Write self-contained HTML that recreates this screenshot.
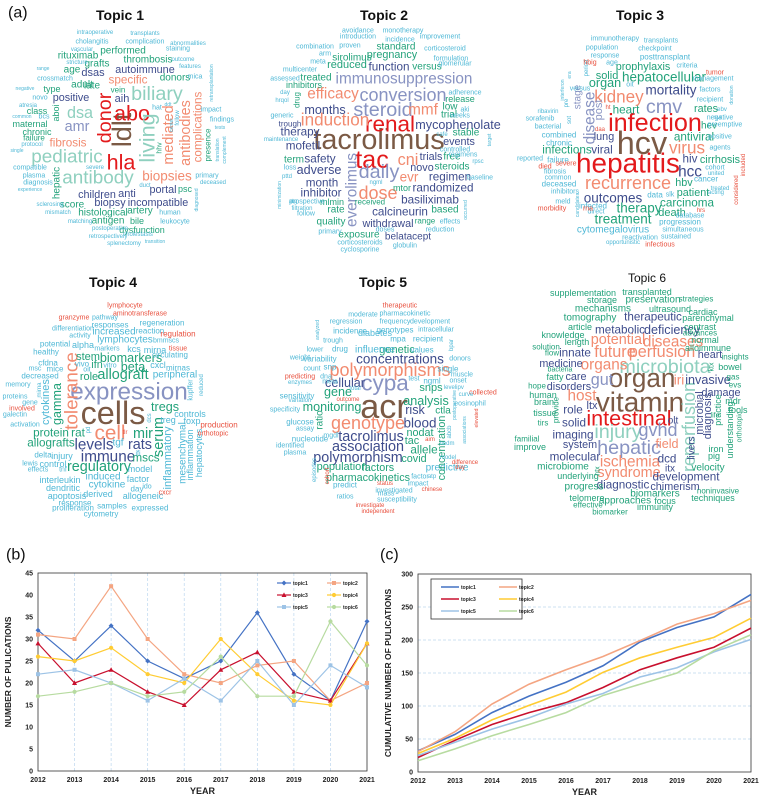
<!DOCTYPE html>
<html><head><meta charset="utf-8"><style>
html,body{margin:0;padding:0;background:#fff}
svg{display:block;font-family:"Liberation Sans",Arial,sans-serif}
</style></head><body>
<svg id="fig" width="762" height="800" viewBox="0 0 762 800">
<g id="clouds"></g>
<g id="chartB"></g>
<g id="chartC"></g>
</svg>
<script>
const years=[2012,2013,2014,2015,2016,2017,2018,2019,2020,2021];
const seriesNames=["topic1","topic2","topic3","topic4","topic5","topic6"];
const t1=[32,25,33,25,21,25,36,22,16,34];
const t2=[31,30,42,30,22,20,24,25,16,20];
const t3=[29,20,23,18,15,23,27,18,16,29];
const t4=[26,25,28,22,20,30,22,16,15,29];
const t5=[22,23,20,16,21,16,25,15,24,19];
const t6=[17,18,20,17,18,26,17,17,34,24];
const c1=[32,57,90,115,136,161,197,219,235,269];
const c2=[31,61,103,133,155,175,199,224,240,260];
const c3=[22,48,72,90,105,128,155,173,189,218];
const c4=[28,51,79,101,121,151,173,189,204,233];
const c5=[25,45,65,82,103,119,144,158,182,201];
const c6=[17,35,55,72,90,116,133,150,184,208];
const yTicksB=[0,5,10,15,20,25,30,35,40,45];
const yTicksC=[0,50,100,150,200,250,300];
const colors=["#4472c4","#f4a582","#c8102e","#ffcc33","#9dc3e6","#b7dba0"];
const markers=["diamond","square","triangle","circle","square","circle"];

const NS="http://www.w3.org/2000/svg";
function mk(tag,attrs,parent){const e=document.createElementNS(NS,tag);for(const k in attrs)e.setAttribute(k,attrs[k]);parent.appendChild(e);return e;}

const COL={B:"#7b5a45",R:"#e31a1c",S:"#f28b70",L:"#8893c2",N:"#3e4c8c",G:"#22a27a",P:"#8fd0bf",C:"#4fb8d6",O:"#e8503e"};
const W=[
["(a)",20,13,16,"K",0,1],["Topic 1",120,15,14,"K",0,2],["Topic 2",384,15,14,"K",0,2],["Topic 3",640,15,14,"K",0,2],
["Topic 4",113,282,14,"K",0,2],["Topic 5",383,282,14,"K",0,2],["Topic 6",640,278,12,"K",0,1],
["(b)",18,555,16,"K",0,1],["(c)",392,555,16,"K",0,1],
["donor",105,118,22,"R",1],["ldlt",122,130,30,"B",1],["abo",132,113,24,"R",0],["hla",121,162,24,"R",0],["living",147,138,24,"P",1],
["biliary",157,94,22,"P",0],["pediatric",67,157,21,"P",0],["antibody",98,178,21,"P",0],["dsa",80,113,18,"P",0],["amr",77,127,16,"L",0],
["fibrosis",68,143,13,"S",0],["specific",128,80,13,"S",0],["mediated",169,135,16,"S",1],["antibodies",186,133,16,"S",1],["complications",198,127,13,"S",1],
["biopsies",167,176,15,"S",0],["children",97,195,12,"N",0],["anti",127,194,11,"N",0],["portal",163,190,12,"N",0],["biopsy",110,203,12,"N",0],
["incompatible",158,203,12,"N",0],["positive",71,98,12,"N",0],["autoimmune",145,70,12,"N",0],["dsas",93,73,11,"N",0],["aih",122,99,11,"N",0],
["hepatic",57,183,10,"G",1],["histological",103,213,10,"G",0],["performed",123,51,10,"G",0],["thrombosis",148,60,10,"G",0],["donors",175,78,10,"G",0],
["rituximab",78,56,10,"G",0],["grafts",97,64,10,"G",0],["age",72,70,10,"G",0],["adult",82,85,10,"G",0],["late",92,86,10,"G",0],["type",52,89,9,"G",0],
["class",37,111,9,"G",0],["maternal",30,124,9,"G",0],["chronic",37,132,9,"G",0],["failure",34,138,8,"G",0],["aboi",56,113,9,"G",1],["vein",118,90,8,"G",0],
["presence",208,145,8,"G",1],["psc",185,189,9,"G",0],["score",72,205,10,"G",0],["artery",140,211,10,"G",0],["bile",137,221,9,"G",0],["antigen",108,221,10,"G",0],["dysfunction",142,230,9,"G",0],
["intraoperative",95,33,6,"C",0],["transplants",145,34,6,"C",0],["cholangitis",92,42,7,"C",0],["complication",145,42,7,"C",0],["abnormalities",188,44,6,"C",0],
["vascular",82,50,6,"C",0],["staining",178,49,7,"C",0],["stricture",77,63,6,"C",0],["outcome",183,60,6,"C",0],["range",43,69,5,"C",0],["features",190,67,6,"C",0],
["crossmatch",55,79,7,"C",0],["mica",195,77,7,"C",0],["negative",25,89,5,"C",0],["novo",40,98,7,"C",0],["atresia",28,106,6,"C",0],["bcs",44,117,7,"C",0],
["common",22,117,5,"C",0],["protocol",32,145,6,"C",0],["single",17,151,5,"C",0],["compatible",30,168,7,"C",0],["plasma",34,176,7,"C",0],["diagnosis",38,183,7,"C",0],
["experience",30,190,5,"C",0],["sclerosing",50,205,6,"C",0],["mismatch",58,213,6,"C",0],["matching",80,222,6,"C",0],["postoperative",110,229,6,"C",0],
["retrospectively",108,237,6,"C",0],["cholestasis",138,235,6,"C",0],["splenectomy",124,244,6,"C",0],["transition",155,242,5,"C",0],["human",170,213,7,"C",0],
["leukocyte",175,222,7,"C",0],["diagnosed",197,200,5,"C",1],["duct",145,186,6,"C",0],["severe",95,168,6,"C",0],["hat",157,108,7,"C",0],["ddt",168,105,5,"C",0],
["follow",178,118,6,"C",1],["center",172,125,5,"C",1],["hhv",160,148,7,"G",1],["impact",211,110,7,"C",0],["findings",222,120,7,"C",0],["tests",220,128,5,"C",0],
["primary",207,176,7,"C",0],["deceased",213,183,6,"C",0],["retransplantation",212,83,5,"C",1],["translation",218,150,5,"C",1],["complement",225,150,5,"C",1],
["tacrolimus",379,140,32,"B",0],["tac",372,160,28,"R",0],["renal",390,124,25,"R",0],["steroid",383,110,22,"L",0],["conversion",403,95,20,"L",0],
["immunosuppression",404,79,17,"L",0],["function",389,67,13,"N",0],["daily",379,172,22,"L",0],["dose",378,193,20,"S",0],["efficacy",333,94,17,"S",0],
["induction",335,120,19,"S",0],["months",325,110,14,"N",0],["therapy",300,132,13,"N",0],["mofetil",303,146,13,"N",0],["safety",320,159,13,"N",0],
["adverse",319,170,14,"N",0],["month",322,183,13,"N",0],["inhibitor",321,193,13,"N",0],["everolimus",352,190,17,"L",1],["cni",408,160,18,"S",0],
["mmf",423,110,17,"S",0],["evr",409,177,15,"S",0],["mycophenolate",458,125,14,"N",0],["events",459,142,12,"N",0],["trials",431,157,12,"N",0],
["novo",422,168,12,"N",0],["regimen",450,177,13,"N",0],["randomized",443,188,13,"N",0],["basiliximab",430,200,13,"N",0],["calcineurin",400,212,13,"N",0],
["withdrawal",388,224,12,"N",0],["belatacept",408,237,10,"N",0],["exposure",359,235,10,"G",0],["standard",396,47,10,"G",0],["pregnancy",392,55,12,"G",0],
["versus",427,67,10,"G",0],["low",450,107,10,"G",0],["trial",449,115,10,"G",0],["stable",466,133,10,"G",0],["free",452,157,10,"G",0],["steroids",452,167,10,"G",0],
["mtor",402,188,9,"G",0],["based",445,210,10,"G",0],["sirolimus",352,58,10,"G",0],["reduced",347,65,11,"G",0],["treated",316,78,10,"G",0],["inhibitors",304,85,9,"G",0],
["term",294,160,10,"G",0],["rate",336,210,10,"G",0],["quality",331,222,10,"G",0],["mlmin",332,202,9,"G",0],["received",370,202,8,"G",0],["release",460,99,9,"G",0],
["drug",297,100,8,"G",1],["range",425,221,8,"G",0],
["avoidance",358,31,7,"C",0],["monotherapy",403,31,7,"C",0],["introduction",358,37,7,"C",0],["incidence",400,40,7,"C",0],["improvement",440,37,7,"C",0],
["combination",315,47,7,"C",0],["proven",350,46,7,"C",0],["corticosteroid",445,49,7,"C",0],["arm",325,54,7,"C",0],["formulation",451,59,7,"C",0],["meta",318,62,7,"C",0],
["glomerular",455,64,7,"C",0],["multicenter",300,70,7,"C",0],["assessed",285,79,7,"C",0],["day",285,93,6,"C",0],["hrqol",282,101,6,"C",0],["generic",282,116,7,"C",0],
["trough",290,124,8,"N",0],["maintenance",281,140,6,"C",0],["adherence",465,93,7,"C",0],["aki",465,110,7,"C",0],["weeks",460,116,7,"C",0],["safe",442,135,6,"C",0],
["controlled",455,150,7,"C",0],["regimens",463,155,7,"C",0],["target",490,140,5,"C",1],["rpsc",478,162,6,"C",0],["baseline",480,178,7,"C",0],["occurred",466,210,5,"C",1],
["effects",450,222,7,"C",0],["reduction",440,230,7,"C",0],["doses",385,230,7,"C",0],["globulin",405,246,7,"C",0],["loss",290,168,7,"C",0],["pttd",287,177,6,"C",0],
["minimization",280,195,5,"C",1],["atg",293,202,6,"C",0],["prospective",307,202,7,"C",0],["filtration",302,209,6,"C",0],["follow",306,214,7,"C",0],["primary",330,232,7,"C",0],
["corticosteroids",360,243,7,"C",0],["cyclosporine",360,250,7,"C",0],["ngml",376,183,6,"C",0],
["hepatitis",628,163,31,"R",0],["hcv",642,143,36,"B",0],["infection",655,123,28,"R",0],["cmv",664,107,22,"L",0],["recurrence",628,183,20,"S",0],
["virus",687,148,19,"S",0],["kidney",619,97,19,"S",0],["disease",590,118,17,"L",1],["hcc",690,172,17,"N",0],["hiv",690,159,13,"N",0],["mortality",671,90,15,"N",0],
["hepatocellular",664,77,15,"G",0],["prophylaxis",643,67,12,"G",0],["organ",605,83,14,"G",0],["solid",607,76,11,"G",0],["heart",626,110,13,"G",0],["post",599,110,11,"L",1],
["lung",604,137,12,"N",0],["viral",602,150,13,"N",0],["infections",567,150,13,"G",0],["antiviral",694,137,13,"G",0],["cirrhosis",720,160,12,"G",0],["rates",706,109,12,"G",0],
["hev",709,126,10,"G",0],["outcomes",613,198,15,"N",0],["therapy",639,208,15,"G",0],["treatment",623,219,15,"G",0],["carcinoma",687,203,13,"G",0],["death",672,213,11,"G",0],
["patient",693,193,12,"G",0],["hbv",684,183,12,"G",0],["cytomegalovirus",613,230,10,"C",0],["stage",578,97,10,"L",1],
["immunotherapy",615,39,7,"C",0],["transplants",661,41,7,"C",0],["population",602,48,7,"C",0],["checkpoint",655,49,7,"C",0],["response",605,56,7,"C",0],
["posttransplant",665,57,8,"C",0],["age",612,63,7,"C",0],["criteria",687,66,7,"C",0],["management",713,79,7,"C",0],["versus",580,89,7,"C",0],["oit",630,85,7,"C",0],
["factors",710,90,7,"C",0],["recipient",710,100,7,"C",0],["negative",720,118,7,"C",0],["preemptive",725,125,7,"C",0],["positive",720,137,7,"C",0],["agents",720,148,7,"C",0],
["cohort",715,168,7,"C",0],["united",716,174,6,"C",0],["cancer",706,179,8,"C",0],["treated",720,189,6,"C",0],["acting",716,193,6,"C",0],["database",690,216,7,"C",0],
["progression",680,222,8,"C",0],["simultaneous",683,230,7,"C",0],["reactivation",640,238,7,"C",0],["sustained",676,237,7,"C",0],["opportunistic",623,243,6,"C",0],
["data",655,195,8,"C",0],["slk",670,195,7,"C",0],["infected",593,206,8,"C",0],["direct",596,212,7,"C",0],["meld",563,202,7,"C",0],["inhibitors",565,192,7,"C",0],
["deceased",559,184,8,"C",0],["fibrosis",555,172,7,"C",0],["common",558,178,7,"C",0],["failure",558,160,8,"C",0],["chronic",559,143,8,"C",0],["combined",559,135,8,"C",0],
["bacterial",548,127,7,"C",0],["sorafenib",540,119,7,"C",0],["ribavirin",548,112,6,"C",0],["reported",530,159,7,"C",0],["sot",570,120,6,"C",1],["pre",567,103,6,"C",1],
["interferon",563,90,5,"C",1],["era",570,75,5,"C",1],["period",587,68,6,"C",1],["candidates",578,205,5,"C",1],["donation",732,95,5,"C",1],["svr",718,118,6,"C",0],["ebv",722,110,6,"C",0],
["hbig",590,63,7,"O",0],["tumor",715,73,7,"O",0],["ht",608,108,6,"O",0],["daa",600,130,6,"O",0],["died",545,167,7,"O",0],["severe",566,164,7,"O",0],
["morbidity",552,209,7,"O",0],["rna",588,209,7,"O",0],["hrs",701,211,6,"O",0],["infectious",660,245,7,"O",0],["considered",737,190,6,"O",1],["included",744,165,6,"O",1],
["cells",113,413,36,"B",0],["expression",129,392,27,"L",0],["tolerance",72,391,21,"S",1],["cell",110,433,23,"S",0],["levels",94,445,17,"N",0],["immune",108,457,17,"N",0],
["rats",140,445,16,"N",0],["serum",159,437,16,"G",1],["mir",143,434,16,"G",0],["regulatory",99,467,16,"G",0],["allograft",123,375,16,"G",0],["biomarkers",131,358,14,"G",0],
["tregs",165,407,14,"G",0],["gamma",57,404,14,"G",1],["protein",51,433,13,"G",0],["rat",78,433,13,"G",0],["allografts",51,443,13,"G",0],["mscs",146,458,13,"G",0],
["ifn",97,365,12,"G",0],["role",89,377,11,"G",0],["stem",88,357,11,"G",0],["beta",133,367,14,"G",0],["cytokines",46,402,11,"C",1],["inflammatory",168,458,11,"C",1],
["mesenchymal",183,453,10,"C",1],["inflammation",190,455,9,"C",1],["hepatocytes",199,453,9,"C",1],
["differentiation",73,329,7,"C",0],["activity",80,336,7,"C",0],["potential",55,344,8,"C",0],["alpha",83,345,9,"C",0],["healthy",46,352,8,"C",0],["cfdna",48,363,8,"C",0],
["mice",55,369,8,"C",0],["msc",35,369,7,"C",0],["decreased",40,376,8,"C",0],["memory",18,385,7,"C",0],["mirna",40,390,6,"C",1],["proteins",15,397,7,"C",0],["gene",30,403,7,"C",0],
["galectin",15,415,7,"C",0],["activation",25,425,7,"C",0],["delta",43,455,8,"C",0],["injury",62,456,9,"C",0],["lewis",30,464,7,"C",0],["control",53,464,9,"C",0],
["effects",38,470,7,"C",0],["tnf",63,470,7,"C",0],["interleukin",60,480,9,"C",0],["dendritic",63,488,9,"C",0],["apoptosis",67,496,9,"C",0],["response",75,503,8,"C",0],
["proliferation",73,508,8,"C",0],["samples",112,506,8,"C",0],["expressed",150,508,8,"C",0],["cytometry",101,514,8,"C",0],["derived",98,494,9,"C",0],["cytokine",107,485,10,"C",0],
["induced",103,477,10,"C",0],["day",137,489,8,"C",0],["ido",147,487,7,"C",0],["allogeneic",143,496,9,"C",0],["factor",138,479,9,"C",0],["model",140,469,9,"C",0],
["controls",190,414,9,"C",0],["treg",168,420,9,"C",0],["foxp",192,421,9,"C",0],["peripheral",175,375,10,"C",0],["kupffer",191,390,7,"C",1],["reduced",202,385,6,"C",1],
["mirnas",178,368,8,"C",0],["cxcl",158,365,9,"C",0],["circulating",170,355,8,"C",0],["mirna",155,350,9,"C",0],["kcs",134,349,9,"C",0],["markers",107,349,7,"C",0],
["lymphocytes",125,340,10,"C",0],["bmmscs",166,341,7,"C",0],["reaction",150,331,8,"C",0],["regeneration",162,323,8,"C",0],["increased",114,332,10,"C",0],
["responses",110,325,8,"C",0],["pathway",105,318,7,"C",0],["vivo",82,364,8,"C",0],["oit",87,370,7,"C",0],["vitro",110,366,7,"C",0],["pd",89,430,6,"C",1],["dcs",150,418,6,"C",1],
["tgf",118,443,10,"C",0],["ifi",138,454,7,"C",0],["tlr",125,433,6,"O",0],
["lymphocyte",125,306,7,"O",0],["aminotransferase",140,314,7,"O",0],["granzyme",74,318,7,"O",0],["regulation",178,334,8,"O",0],["tissue",178,349,7,"O",0],
["involved",22,409,7,"O",0],["production",219,425,8,"O",0],["orthotopic",213,434,7,"O",0],["cxcr",165,493,7,"O",0],
["acr",384,407,38,"B",0],["cypa",385,383,25,"L",0],["polymorphisms",390,370,20,"S",0],["concentrations",400,359,15,"N",0],["genotype",368,423,20,"S",0],
["cellular",345,383,14,"N",0],["gene",338,392,14,"G",0],["monitoring",332,407,14,"G",0],["tacrolimus",371,437,16,"N",0],["association",368,447,16,"N",0],
["polymorphism",358,458,16,"N",0],["population",342,467,11,"G",0],["factors",378,468,12,"G",0],["pharmacokinetics",368,478,12,"G",0],["blood",420,423,15,"N",0],
["risk",415,410,14,"N",0],["analysis",426,401,14,"G",0],["snps",431,388,11,"G",0],["nodat",420,433,12,"G",0],["tac",412,441,12,"G",0],["allele",424,450,13,"G",0],
["covid",414,459,12,"G",0],["predictive",447,468,10,"C",0],["genetic",397,350,11,"G",0],["concentration",442,448,12,"G",1],["ctla",443,411,10,"G",0],["ratio",320,420,10,"G",1],
["therapeutic",400,306,7,"O",0],["pharmacokinetic",405,314,7,"C",0],["moderate",363,315,7,"C",0],["frequency",395,322,7,"C",0],["regression",346,322,7,"C",0],
["development",430,322,7,"C",0],["genotypes",395,330,8,"C",0],["incidence",350,331,8,"C",0],["intracellular",436,330,7,"C",0],["diabetes",375,333,9,"C",0],
["mpa",398,339,8,"C",0],["recipient",428,339,8,"C",0],["trough",333,341,7,"C",0],["drug",340,349,8,"C",0],["influence",375,350,10,"C",0],["lower",315,350,7,"C",0],
["values",422,350,8,"C",0],["weight",300,358,7,"C",0],["variability",320,359,8,"C",0],["donors",460,359,7,"C",0],["count",312,369,7,"C",0],["snp",330,367,8,"C",0],
["single",448,369,8,"C",0],["muscle",462,375,7,"C",0],["test",414,379,7,"C",0],["ngml",432,381,8,"C",0],["onset",458,381,7,"C",0],["level",450,388,6,"C",0],
["ipv",460,388,6,"C",0],["collected",483,393,7,"O",0],["curve",466,395,6,"C",0],["eosinophil",470,404,7,"C",0],["meta",330,382,7,"C",0],["dna",326,377,7,"C",0],
["predicting",300,377,7,"O",0],["enzymes",300,383,6,"C",0],["total",355,389,6,"C",0],["sensitivity",297,396,8,"C",0],["variation",300,401,6,"C",0],["outcome",348,400,6,"O",0],
["specificity",285,410,7,"C",0],["glucose",300,422,8,"C",0],["assay",305,429,7,"C",0],["nucleotide",310,439,8,"C",0],["mgdl",331,436,7,"C",0],["identified",290,446,7,"C",0],
["plasma",295,453,7,"C",0],["episodes",315,470,6,"C",1],["cohort",328,476,6,"O",1],["predict",345,485,8,"C",0],["mass",386,494,7,"C",0],["ratios",345,497,7,"C",0],
["susceptibility",397,500,7,"C",0],["investigated",394,491,7,"C",0],["status",385,484,6,"O",0],["impact",418,484,7,"C",0],["factor",420,477,7,"C",0],["atp",432,477,6,"C",0],
["chinese",432,490,6,"O",0],["investigate",370,506,6,"O",0],["independent",378,512,6,"O",0],["difference",465,463,6,"O",0],["day",460,468,6,"O",0],["model",448,458,6,"C",0],
["nodm",447,444,6,"C",0],["aim",430,440,6,"O",0],["abcb",450,432,6,"C",1],["postoperative",455,405,5,"C",1],["associations",465,430,5,"C",1],["elevated",477,418,5,"O",1],
["analyzed",318,330,5,"C",1],["bpar",452,345,6,"C",1],
["vitamin",640,402,31,"B",0],["organ",642,378,29,"B",0],["intestinal",629,418,24,"R",0],["injury",618,432,22,"P",0],["gvhd",658,430,20,"L",0],["hepatic",629,448,22,"L",0],
["microbiota",665,367,22,"P",0],["reperfusion",689,427,20,"P",1],["perfusion",662,352,18,"S",0],["future",615,352,18,"S",0],["potential",618,340,16,"S",0],
["diseases",673,342,17,"S",0],["organs",604,365,17,"S",0],["ischemia",630,462,17,"S",0],["syndrome",629,473,16,"S",0],["host",582,396,17,"S",0],["iri",679,380,15,"S",0],
["field",667,444,14,"S",0],["gut",602,380,18,"L",0],["metabolic",620,330,13,"N",0],["deficiency",672,330,14,"N",0],["therapeutic",653,317,13,"N",0],["innate",575,353,13,"N",0],
["medicine",561,364,12,"N",0],["care",576,377,12,"N",0],["disorders",569,387,12,"N",0],["role",573,410,13,"N",0],["solid",574,423,13,"N",0],["imaging",573,435,13,"N",0],
["system",580,445,12,"N",0],["molecular",575,457,13,"N",0],["invasive",708,380,14,"N",0],["heart",710,355,12,"N",0],["damage",721,393,12,"N",0],["microbial",700,413,12,"N",1],
["diagnosis",708,416,11,"N",1],["livers",692,448,10,"N",1],["dcd",667,459,13,"N",0],["development",686,477,13,"N",0],["chimerism",675,487,12,"N",0],["diagnostic",623,485,13,"N",0],
["ltx",592,406,11,"N",0],["itx",670,469,10,"N",0],["olt",673,421,10,"N",0],
["supplementation",583,293,9,"G",0],["transplanted",647,292,9,"G",0],["storage",602,300,9,"G",0],["preservation",653,300,10,"G",0],["strategies",696,299,8,"G",0],
["mechanisms",603,309,10,"G",0],["ultrasound",670,309,9,"G",0],["cardiac",703,312,9,"G",0],["tomography",590,318,10,"G",0],["parenchymal",708,318,9,"G",0],
["article",580,327,9,"G",0],["contrast",700,327,9,"G",0],["knowledge",563,335,9,"G",0],["advances",700,333,8,"G",0],["length",577,342,9,"G",0],["normal",705,340,9,"G",0],
["solution",546,347,8,"G",0],["alloimmune",708,348,9,"G",0],["flow",552,353,8,"G",0],["insights",735,357,8,"G",0],["bacteria",560,370,7,"G",0],["bowel",730,367,9,"G",0],
["fatty",555,377,9,"G",0],["gas",733,377,8,"G",0],["hope",537,386,8,"G",0],["evs",735,385,8,"G",0],["human",543,395,9,"G",0],["brain",544,402,9,"G",0],["mdr",733,401,9,"G",0],
["tools",738,410,9,"G",0],["tissue",545,413,9,"G",0],["tirs",543,423,8,"G",0],["practice",718,410,9,"G",1],["understanding",730,430,9,"G",1],["orthotopic",740,427,7,"G",1],
["familial",527,439,8,"G",0],["improve",530,447,9,"G",0],["iron",716,449,9,"G",0],["pig",714,456,9,"G",0],["velocity",708,468,10,"G",0],["microbiome",563,467,10,"G",0],
["underlying",578,476,9,"G",0],["progress",584,487,10,"G",0],["biomarkers",655,494,10,"G",0],["focus",665,501,9,"G",0],["noninvasive",718,491,8,"G",0],["techniques",713,498,9,"G",0],
["telomere",587,498,9,"G",0],["approaches",625,501,10,"G",0],["effective",588,505,8,"G",0],["immunity",655,507,9,"G",0],["biomarker",610,512,8,"G",0],["provide",556,410,8,"G",1],
["ktx",712,367,7,"G",1],["life",715,416,7,"G",0],["htx",598,471,7,"G",1]
];
const cg=document.getElementById('clouds');
for(const w of W){
  const fs=w[4]==="K"?w[3]:(w[3]>=12?w[3]*0.9:w[3]);
  const t=mk('text',{x:w[1],y:w[2],'font-size':fs,fill:w[4]==="K"?"#111":COL[w[4]],'text-anchor':w[6]===1?"start":"middle",'dominant-baseline':'central'},cg);
  if(w[6]===1){t.setAttribute('x',w[1]-12);}
  if(w[6]===2)t.setAttribute('font-weight','bold');
  if(w[5])t.setAttribute('transform','rotate(-90 '+w[1]+' '+w[2]+')');
  t.textContent=w[0];
  
  
}

function drawMarker(g,type,x,y,col){
  let m;
  if(type==="diamond")m=mk('polygon',{points:`${x},${y-2.5} ${x+2.5},${y} ${x},${y+2.5} ${x-2.5},${y}`,fill:col},g);
  else if(type==="square")m=mk('rect',{x:x-2,y:y-2,width:4,height:4,fill:col},g);
  else if(type==="triangle")m=mk('polygon',{points:`${x},${y-2.6} ${x+2.5},${y+2} ${x-2.5},${y+2}`,fill:col},g);
  else m=mk('circle',{cx:x,cy:y,r:2.1,fill:col},g);
  
  
}
function chart(gid,L,R,T,B,ymax,ticks,data,yTitle,vgrid,hgrid,lw,withMarkers,legend){
  const g=document.getElementById(gid);
  const xs=i=>L+(R-L)*i/(years.length-1);
  const ys=v=>B-(B-T)*v/ymax;
  if(vgrid)for(let i=1;i<years.length-1;i++){const l=mk('line',{x1:xs(i),x2:xs(i),y1:T,y2:B,stroke:"#bcd7ee",'stroke-width':0.7,'stroke-dasharray':'3,2'},g);}
  if(hgrid)for(const v of ticks){if(v===0||v===ymax)continue;const l=mk('line',{x1:L,x2:R,y1:ys(v),y2:ys(v),stroke:"#bcd7ee",'stroke-width':0.7,'stroke-dasharray':'3,2'},g);}
  const fr=mk('rect',{x:L,y:T,width:R-L,height:B-T,fill:'none',stroke:'#333','stroke-width':0.8},g);
  
  for(const v of ticks){const t=mk('text',{x:L-5,y:ys(v)+2.5,'font-size':7,'font-weight':'bold','text-anchor':'end',fill:'#222'},g);t.textContent=v;}
  years.forEach((yr,i)=>{const t=mk('text',{x:xs(i),y:B+11,'font-size':7,'font-weight':'bold','text-anchor':'middle',fill:'#222'},g);t.textContent=yr;});
  const xt=mk('text',{x:(L+R)/2,y:B+23,'font-size':9,'font-weight':'bold','text-anchor':'middle',fill:'#222'},g);xt.textContent="YEAR";
  const cy=(T+B)/2, cx=L-27;
  const yt=mk('text',{x:cx,y:cy,'font-size':8.5,'font-weight':'bold','text-anchor':'middle',transform:`rotate(-90 ${cx} ${cy})`,fill:'#222'},g);yt.textContent=yTitle;
  data.forEach((arr,s)=>{
    const pts=arr.map((v,i)=>xs(i)+','+ys(v)).join(' ');
    const pl=mk('polyline',{points:pts,fill:'none',stroke:colors[s],'stroke-width':lw},g);
    
    if(withMarkers)arr.forEach((v,i)=>drawMarker(g,markers[s],xs(i),ys(v),colors[s]));
  });
  if(legend.box){const b=mk('rect',{x:legend.box[0],y:legend.box[1],width:legend.box[2],height:legend.box[3],fill:'#fff',stroke:'#333','stroke-width':0.8},g);}
  seriesNames.forEach((n,s)=>{
    const col=s%2, row=Math.floor(s/2);
    const x0=legend.x+col*legend.dx, y0=legend.y+row*legend.dy;
    const lg=mk('g',{},g);
    mk('line',{x1:x0,x2:x0+legend.len,y1:y0,y2:y0,stroke:colors[s],'stroke-width':lw},lg);
    if(withMarkers)drawMarker(lg,markers[s],x0+legend.len/2,y0,colors[s]);
    const t=mk('text',{x:x0+legend.len+2,y:y0+2,'font-size':5,'font-weight':'bold',fill:'#222'},lg);t.textContent=n;
  });
}
chart('chartB',38,367,573,771,45,yTicksB,[t1,t2,t3,t4,t5,t6],"NUMBER OF PULICATIONS",true,false,1.2,true,{x:277,y:583,dx:50,dy:12,len:14});
chart('chartC',418,751,574,772,300,yTicksC,[c1,c2,c3,c4,c5,c6],"CUMULATIVE NUMBER OF PULICATIONS",false,true,1.6,false,{x:441,y:587,dx:58,dy:12,len:18,box:[431,579,91,40]});
</script>
</body></html>
